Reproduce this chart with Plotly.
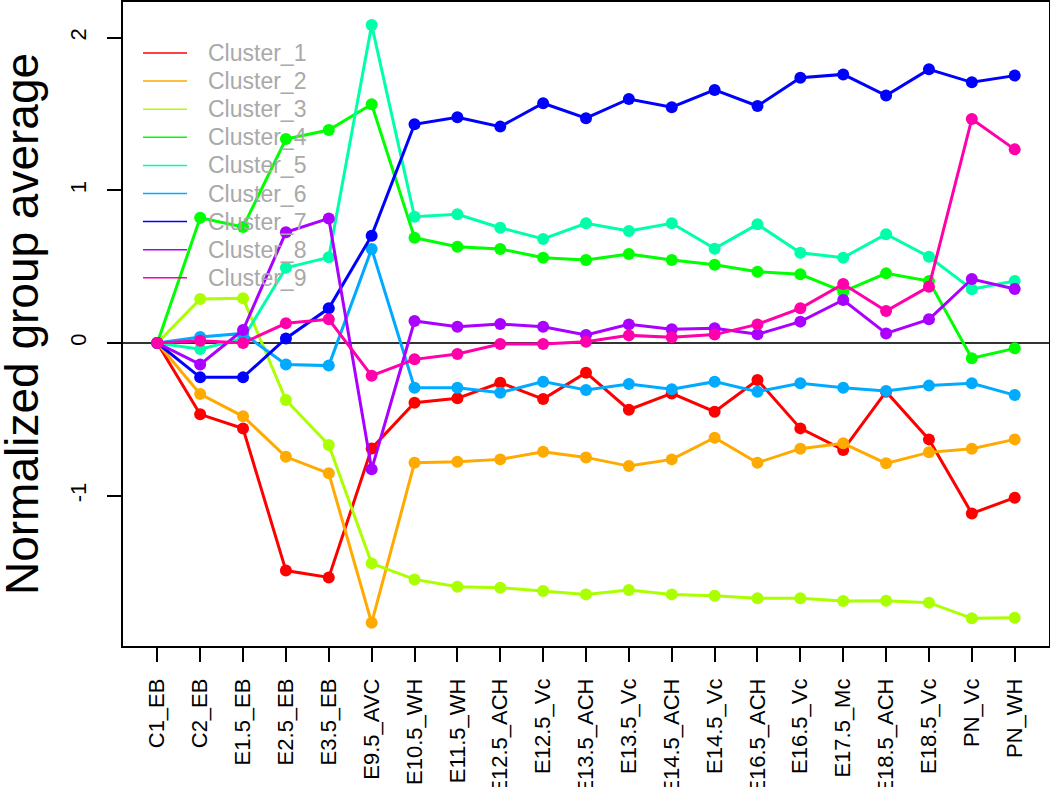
import plotly.graph_objects as go

categories = ["C1_EB", "C2_EB", "E1.5_EB", "E2.5_EB", "E3.5_EB", "E9.5_AVC",
              "E10.5_WH", "E11.5_WH", "E12.5_ACH", "E12.5_Vc", "E13.5_ACH",
              "E13.5_Vc", "E14.5_ACH", "E14.5_Vc", "E16.5_ACH", "E16.5_Vc",
              "E17.5_Mc", "E18.5_ACH", "E18.5_Vc", "PN_Vc", "PN_WH"]

cluster_names = ["Cluster_1", "Cluster_2", "Cluster_3", "Cluster_4", "Cluster_5",
                 "Cluster_6", "Cluster_7", "Cluster_8", "Cluster_9"]
cluster_colors = ["#FF0000", "#FFAA00", "#AAFF00", "#00FF00", "#00FFAA",
                  "#00AAFF", "#0000FF", "#AA00FF", "#FF00AA"]

cluster_1 = [0, -0.467, -0.56, -1.49, -1.535, -0.69, -0.391, -0.362, -0.26, -0.367, -0.194,
             -0.437, -0.33, -0.45, -0.242, -0.559, -0.70, -0.319, -0.631, -1.116, -1.013]
cluster_2 = [0, -0.334, -0.48, -0.745, -0.853, -1.832, -0.784, -0.777, -0.762, -0.712, -0.749,
             -0.806, -0.762, -0.62, -0.784, -0.692, -0.657, -0.788, -0.716, -0.692, -0.631]
cluster_3 = [0, 0.288, 0.293, -0.373, -0.668, -1.443, -1.548, -1.596, -1.602, -1.624, -1.646,
             -1.618, -1.646, -1.655, -1.672, -1.672, -1.69, -1.687, -1.70, -1.803, -1.799]
cluster_4 = [0, 0.82, 0.76, 1.336, 1.395, 1.563, 0.69, 0.631, 0.616, 0.559, 0.544,
             0.583, 0.544, 0.513, 0.467, 0.45, 0.336, 0.456, 0.406, -0.10, -0.035]
cluster_5 = [0, -0.04, 0.03, 0.493, 0.561, 2.083, 0.827, 0.843, 0.755, 0.681, 0.784,
             0.733, 0.784, 0.618, 0.777, 0.591, 0.559, 0.712, 0.565, 0.352, 0.406]
cluster_6 = [0, 0.04, 0.063, -0.14, -0.148, 0.616, -0.293, -0.293, -0.325, -0.253, -0.308,
             -0.269, -0.303, -0.253, -0.319, -0.264, -0.293, -0.314, -0.279, -0.264, -0.341]
cluster_7 = [0, -0.225, -0.225, 0.03, 0.227, 0.703, 1.432, 1.478, 1.417, 1.57, 1.472,
             1.598, 1.544, 1.657, 1.552, 1.737, 1.759, 1.62, 1.792, 1.707, 1.751]
cluster_8 = [0, -0.14, 0.085, 0.725, 0.816, -0.827, 0.144, 0.107, 0.124, 0.107, 0.052,
             0.122, 0.09, 0.096, 0.057, 0.14, 0.282, 0.063, 0.155, 0.419, 0.354]
cluster_9 = [0, 0.015, 0.0, 0.129, 0.155, -0.214, -0.107, -0.072, -0.007, -0.007, 0.009,
             0.05, 0.037, 0.055, 0.122, 0.227, 0.386, 0.21, 0.369, 1.467, 1.268]

series = [cluster_1, cluster_2, cluster_3, cluster_4, cluster_5,
          cluster_6, cluster_7, cluster_8, cluster_9]

y_tickvals = [-1, 0, 1, 2]
y_ticktext = ["-1", "0", "1", "2"]

FONT = "Liberation Sans, Arial, Helvetica, sans-serif"

fig = go.Figure()
for name, color, vals in zip(cluster_names, cluster_colors, series):
    fig.add_trace(go.Scatter(
        x=categories, y=vals, name=name, mode="lines+markers",
        line=dict(color=color, width=3),
        marker=dict(color=color, size=12),
        showlegend=False,
    ))

# Legend drawn manually (R-style, no box, grey text)
W, H = 1050, 787
L, R, T, B = 123, 1, 2, 141
pw, ph = W - L - R, H - T - B
shapes = []
annotations = []
leg_y0, leg_dy = 53, 28.1
for i, (name, color) in enumerate(zip(cluster_names, cluster_colors)):
    py = leg_y0 + i * leg_dy
    yp = (H - B - py) / ph
    shapes.append(dict(type="line", xref="paper", yref="paper",
                       x0=(143 - L) / pw, x1=(187 - L) / pw, y0=yp, y1=yp,
                       line=dict(color=color, width=1.5)))
    annotations.append(dict(text=name, xref="paper", yref="paper",
                            x=(206 - L) / pw, y=yp, xanchor="left", yanchor="middle",
                            showarrow=False, font=dict(family=FONT, size=23, color="#A9A9A9")))

annotations.append(dict(text="Normalized group average", xref="paper", yref="paper",
                        x=(22 - L) / pw, y=0.5, xanchor="center", yanchor="middle",
                        textangle=-90, showarrow=False,
                        font=dict(family=FONT, size=46, color="black")))

fig.update_layout(
    width=W, height=H,
    margin=dict(l=L, r=R, t=T, b=B, pad=0, autoexpand=False),
    plot_bgcolor="white", paper_bgcolor="white",
    font=dict(family=FONT, color="black"),
    shapes=shapes, annotations=annotations,
    xaxis=dict(
        type="category", range=[-0.8, 20.8], automargin=False,
        showgrid=False, zeroline=False,
        showline=True, mirror=True, linecolor="black", linewidth=1.5,
        ticks="outside", ticklen=14, tickwidth=1.5, tickcolor="black",
        tickangle=-90, tickfont=dict(family=FONT, size=22, color="black"),
        ticklabelstandoff=8,
    ),
    yaxis=dict(
        range=[-1.984, 2.233], automargin=False,
        tickvals=y_tickvals, ticktext=y_ticktext,
        showgrid=False,
        zeroline=True, zerolinecolor="#333333", zerolinewidth=1.5,
        showline=True, mirror=True, linecolor="black", linewidth=1.5,
        ticks="outside", ticklen=14, tickwidth=1.5, tickcolor="black",
        tickangle=-90, tickfont=dict(family=FONT, size=22, color="black"),
        ticklabelstandoff=12,
    ),
)

fig.write_html(
    "out.html",
    config={"displayModeBar": False},
    post_script="document.body.style.margin='0';document.body.style.overflow='hidden';",
)
